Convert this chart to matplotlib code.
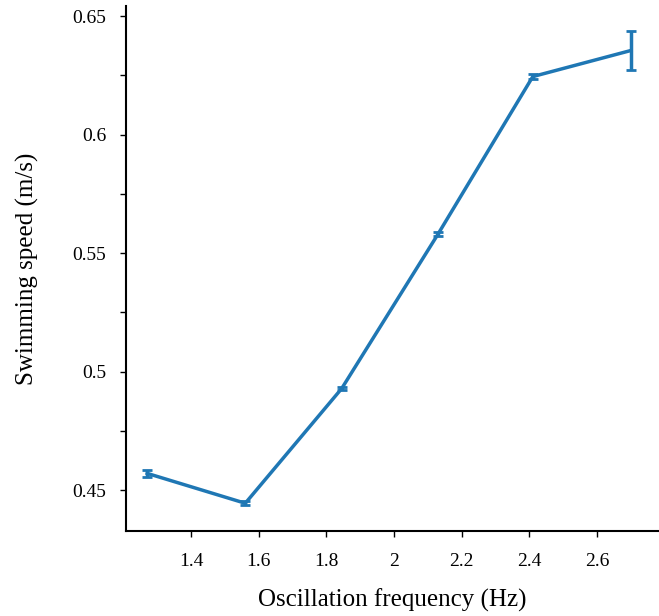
import numpy as np
import matplotlib.pyplot as plt
from matplotlib.ticker import MultipleLocator, FuncFormatter

# Data
freq = [1.27, 1.56, 1.845, 2.13, 2.41, 2.70]          # Hz
speed = [0.4571, 0.4445, 0.4929, 0.5581, 0.6245, 0.6355]  # m/s
speed_err = [0.0014, 0.0008, 0.0005, 0.0008, 0.0010, 0.0082]

plt.rcParams['font.family'] = ['Liberation Serif', 'DejaVu Serif']

fig = plt.figure(figsize=(6.59, 6.16), dpi=100)
ax = fig.add_axes([0.191, 0.138, 0.809, 0.852])

ax.errorbar(freq, speed, yerr=speed_err, color='#1f77b4', lw=2.5,
            elinewidth=2.5, capsize=3.5, capthick=2)

ax.set_xlim(1.207, 2.783)
ax.set_ylim(0.4328, 0.6542)

ax.xaxis.set_major_locator(MultipleLocator(0.2))
ax.yaxis.set_major_locator(MultipleLocator(0.05))
ax.yaxis.set_minor_locator(MultipleLocator(0.025))

fmt = FuncFormatter(lambda v, p: ('%g' % round(v, 3)))
ax.xaxis.set_major_formatter(fmt)
ax.yaxis.set_major_formatter(fmt)

for s in ['top', 'right']:
    ax.spines[s].set_visible(False)
for s in ['left', 'bottom']:
    ax.spines[s].set_linewidth(1.5)

ax.tick_params(axis='both', which='both', direction='out', length=4,
               width=1, labelsize=14, pad=12)
ax.tick_params(axis='y', pad=10)

ax.set_xlabel('Oscillation frequency (Hz)', fontsize=18, labelpad=13)
ax.set_ylabel('Swimming speed (m/s)', fontsize=18, labelpad=24)

fig.savefig('out.png', dpi=100)
